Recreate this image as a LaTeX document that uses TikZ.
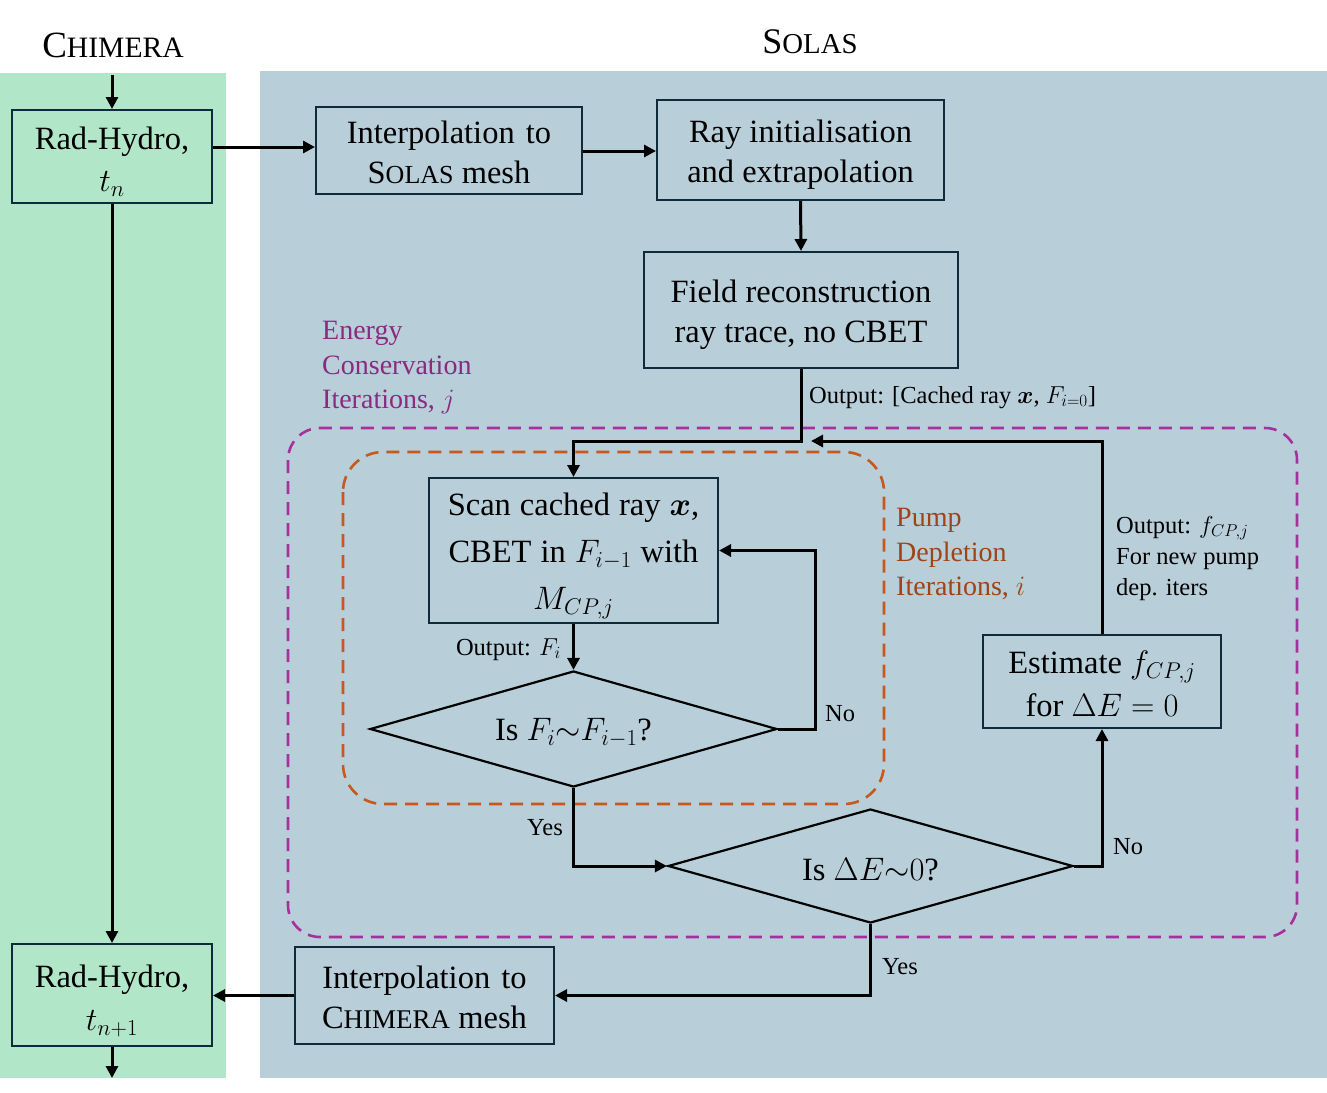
\RequirePackage{fix-cm}
\documentclass[tikz,border=0pt]{standalone}
\usepackage{amsmath}
\usepackage{fontspec}
\setmainfont{Liberation Serif}
\usepackage{bm}
\usetikzlibrary{arrows.meta,shapes.geometric,calc}
\definecolor{greenbg}{HTML}{B2E6C9}
\definecolor{bluebg}{HTML}{B8CED9}
\definecolor{boxline}{HTML}{0F2A3B}
\definecolor{purpdash}{HTML}{A8309C}
\definecolor{purptext}{HTML}{8A2A80}
\definecolor{orgdash}{HTML}{C8581C}
\definecolor{orgtext}{HTML}{9E4416}
\newcommand\bigtxt{\fontsize{32.5}{40}\selectfont}
\newcommand\smalltxt{\fontsize{24.5}{31}\selectfont}
\newcommand\midtxt{\fontsize{28}{34.5}\selectfont}
\tikzset{
  boxnode/.style={draw=boxline, line width=2pt, inner sep=0pt},
  boxtext/.style={inner sep=0pt, align=center, font=\bigtxt},
  dianode/.style={diamond, draw=black, line width=2.2pt, inner sep=0pt},
  arr/.style={line width=3pt, draw=black, -{Triangle[length=12pt,width=12pt]}},
  lbl/.style={inner sep=0pt, font=\smalltxt},
  loopbox/.style={line width=2.6pt, dash pattern=on 13pt off 8pt},
}
\begin{document}
\begin{tikzpicture}[x=1pt,y=-1pt]
\useasboundingbox (0,0) rectangle (1327,1092);
% panels
\fill[greenbg] (0,73) rectangle (226,1078);
\fill[bluebg] (260,71) rectangle (1327,1078);
% titles
\node (tchi) at (113,45) {\fontsize{37}{40}\selectfont C\fontsize{29.6}{40}\selectfont HIMERA};
\node (tsol) at (810,42) {\fontsize{36}{40}\selectfont S\fontsize{28.8}{40}\selectfont OLAS};
% dashed loops
\draw[loopbox, purpdash, rounded corners=32pt] (288,428) rectangle (1297,937);
\draw[loopbox, orgdash, rounded corners=40pt] (343,452) rectangle (884,804);
% loop labels
\node[anchor=north west, align=left, text=purptext, font=\midtxt, inner sep=0pt] (lenergy) at (322,321) {Energy\\Conservation\\Iterations,\ $j$};
\node[anchor=north west, align=left, text=orgtext, font=\midtxt, inner sep=0pt] (lpump) at (896,508) {Pump\\Depletion\\Iterations,\ $i$};
% boxes
\node[boxnode, fill=greenbg, minimum width=200, minimum height=93] (rh1) at (112,156.5) {};
\node[boxtext, font=\fontsize{32.5}{42}\selectfont] (rh1t) at ([yshift=-5pt]rh1.center) {Rad-Hydro,\\$t_n$};
\node[boxnode, minimum width=266, minimum height=87] (isol) at (449,150.5) {};
\node[boxtext] (isolt) at ([yshift=-1.5pt]isol.center) {Interpolation\hspace{3pt} to\\S{\fontsize{26}{40}\selectfont OLAS} mesh};
\node[boxnode, minimum width=287, minimum height=100] (ray) at (800.5,150) {};
\node[boxtext] (rayt) at ([yshift=-5pt]ray.center) {Ray initialisation\\and extrapolation};
\node[boxnode, minimum width=314, minimum height=116] (field) at (801,310) {};
\node[boxtext] (fieldt) at ([yshift=-5pt]field.center) {Field reconstruction\\ray trace, no CBET};
\node[boxnode, minimum width=289, minimum height=145] (scan) at (573.5,550.5) {};
\node[boxtext, font=\fontsize{32.5}{47}\selectfont] (scant) at ([yshift=-5pt]scan.center) {Scan\hspace{9pt}cached\hspace{9pt}ray\hspace{9pt}$\bm{x}$,\\CBET\hspace{9pt}in\hspace{9pt}$F_{i-1}$\hspace{9pt}with\\$M_{CP,j}$};
\node[boxnode, minimum width=238, minimum height=93] (est) at (1102,681.5) {};
\node[boxtext, font=\fontsize{32.5}{43}\selectfont] (estt) at ([yshift=-2pt]est.center) {Estimate\ $f_{CP,j}$\\for $\Delta E = 0$};
\node[boxnode, minimum width=259, minimum height=97] (ichi) at (424.5,995.5) {};
\node[boxtext] (ichit) at ([yshift=-1.5pt]ichi.center) {Interpolation\hspace{3pt} to\\C{\fontsize{27}{40}\selectfont HIMERA} mesh};
\node[boxnode, fill=greenbg, minimum width=200, minimum height=102] (rh2) at (112,995) {};
\node[boxtext, font=\fontsize{32.5}{43}\selectfont] (rh2t) at ([yshift=-6pt]rh2.center) {Rad-Hydro,\\$t_{n+1}$};
% diamonds
\node[dianode, minimum width=407, minimum height=116] (d1) at (573.5,729) {};
\node[font=\bigtxt, inner sep=0pt] (d1t) at ([yshift=-4pt]d1.center) {Is $F_i{\sim}F_{i-1}$?};
\node[dianode, minimum width=405, minimum height=114] (d2) at (870.5,866) {};
\node[font=\bigtxt, inner sep=0pt] (d2t) at ([yshift=-4pt]d2.center) {Is $\Delta E{\sim}0$?};
% free ends
\coordinate (cin) at (112,75);
\coordinate (cout) at (112,1078);
\coordinate (cback) at (811,441);
% connectors
\draw[arr] (cin) -- (rh1.north);
\draw[arr] (rh1.east |- 0,147) -- (isol.west |- 0,147);
\draw[arr] (isol.east |- 0,151) -- (ray.west |- 0,151);
\draw[arr] (ray.south) -- (field.north);
\draw[arr] (field.south) -- (field.south |- 0,441) -| (scan.north);
\draw[arr] (scan.south) -- (d1.north);
\draw[arr] (d1.east) -- ++(37,0) |- (scan.east);
\draw[arr] (d1.south) |- (d2.west);
\draw[arr] (d2.east) -| (est.south);
\draw[arr] (est.north) |- (cback);
\draw[arr] (d2.south) |- (ichi.east);
\draw[arr] (ichi.west) -- (rh2.east |- ichi.west);
\draw[arr] (rh1.south) -- (rh2.north);
\draw[arr] (rh2.south) -- (cout);
% connector labels
\node[lbl, anchor=base west] (lcache) at (809,403) {Output: [Cached ray $\bm{x}$, $F_{i=0}$]};
\node[lbl, anchor=base east] (lfi) at (561,655) {Output: $F_i$};
\node[lbl, anchor=base west] (lno1) at (825,721) {No};
\node[lbl, anchor=base east] (lyes1) at (563,835) {Yes};
\node[lbl, anchor=base west] (lno2) at (1113,854) {No};
\node[lbl, anchor=base west] (lyes2) at (882,974) {Yes};
\node[lbl, anchor=north west, align=left] (lfcp) at (1116,516) {Output: $f_{CP,j}$\\For new pump\\dep. iters};
\end{tikzpicture}
\end{document}
